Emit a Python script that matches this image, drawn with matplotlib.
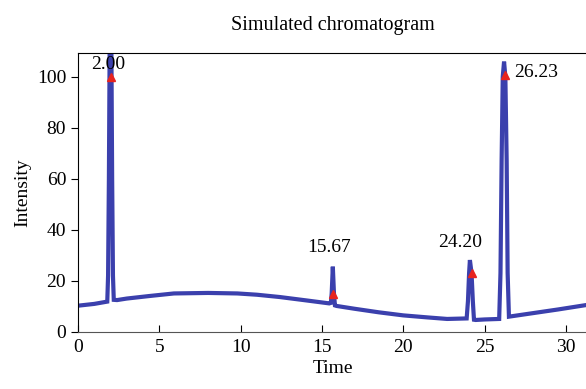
import numpy as np
import matplotlib.pyplot as plt

# detector trace (time, intensity)
time = [0.0, 1.0, 1.8, 1.85, 1.9, 1.95, 2.0, 2.05, 2.1, 2.15, 2.2, 2.4,
        3.0, 4.4, 5.9, 8.0, 9.8, 11.0, 12.4, 14.0, 15.45, 15.55, 15.6, 15.67,
        15.74, 15.8, 15.9, 17.0, 18.5, 20.0, 21.5, 22.7, 23.9, 23.98, 24.05,
        24.1, 24.2, 24.28, 24.35, 24.45, 25.0, 25.9, 25.98, 26.05, 26.12,
        26.2, 26.28, 26.36, 26.42, 26.5, 28.0, 29.5, 31.3]
intensity = [10.2, 10.9, 11.8, 22.0, 60.0, 115.0, 125.0, 115.0, 60.0, 22.0,
             12.5, 12.4, 13.0, 14.0, 15.0, 15.2, 15.0, 14.5, 13.6, 12.3, 11.1,
             11.3, 15.0, 25.5, 15.0, 10.3, 10.1, 9.0, 7.6, 6.4, 5.6, 5.0, 5.2,
             12.0, 23.0, 28.1, 23.0, 12.0, 4.7, 4.6, 4.8, 5.0, 23.0, 67.0,
             100.0, 105.9, 100.0, 67.0, 23.0, 5.9, 7.3, 8.7, 10.5]

# picked peaks
peak_time = [2.00, 15.67, 24.20, 26.23]
peak_height = [100.0, 14.6, 23.0, 100.7]
peak_labels = ['2.00', '15.67', '24.20', '26.23']

plt.rcParams['font.family'] = ['Liberation Serif', 'DejaVu Serif']

fig = plt.figure(figsize=(5.86, 3.89), dpi=100)
ax = fig.add_axes([0.1331, 0.1473, 0.8686, 0.7172])

ax.plot(time, intensity, color='#3b40ad', lw=3.0, solid_joinstyle='miter')
ax.plot(peak_time, peak_height, linestyle='none', marker='^',
        color='#e8231e', markersize=6)

# peak annotations, offsets in points from each marker
offsets = [(-2, 8.5, 'center'), (-3, 33.5, 'center'), (-8.5, 22, 'center'), (6.7, 2, 'left')]
for t, h, s, (dx, dy, ha) in zip(peak_time, peak_height, peak_labels, offsets):
    ax.annotate(s, (t, h), xytext=(dx, dy), textcoords='offset points',
                ha=ha, va='center', fontsize=14)

ax.set_xlim(0, 31.3)
ax.set_ylim(0, 109.4)
ax.set_xticks([0, 5, 10, 15, 20, 25, 30])
ax.set_yticks([0, 20, 40, 60, 80, 100])
ax.tick_params(axis='x', direction='in', length=5, labelsize=14, pad=5)
ax.tick_params(axis='y', direction='out', length=5, labelsize=14)
ax.spines['right'].set_visible(False)
ax.spines['bottom'].set_color('#555555')

ax.set_xlabel('Time', fontsize=14, labelpad=3)
ax.set_ylabel('Intensity', fontsize=14, labelpad=4)
ax.set_title('Simulated chromatogram', fontsize=14.5, pad=16)

fig.savefig('out.png', dpi=100)
